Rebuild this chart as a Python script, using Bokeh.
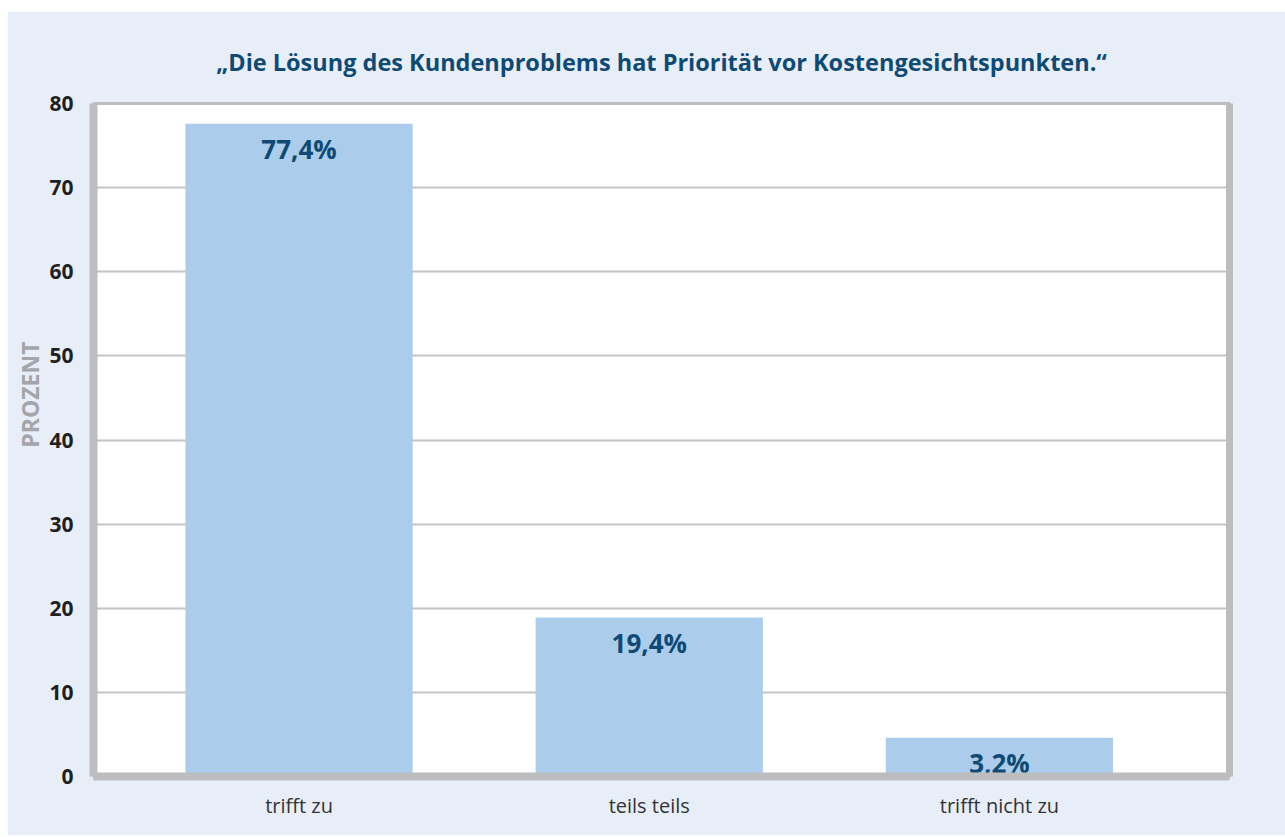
import math
from bokeh.plotting import figure
from bokeh.models import Range1d, FixedTicker, LinearAxis, Title, ColumnDataSource, Spacer
from bokeh.layouts import column, row
from bokeh.core.properties import value
from bokeh.embed import file_html
from bokeh.resources import INLINE

# ---- data ----
categories = ["trifft zu", "teils teils", "trifft nicht zu"]
bar_heights = [77.6, 18.9, 4.6]          # heights as drawn in the picture
bar_labels = ["77,4%", "19,4%", "3,2%"]  # printed labels
y_ticks = [0, 10, 20, 30, 40, 50, 60, 70, 80]
title_text = "\u201eDie L\u00f6sung des Kundenproblems hat Priorit\u00e4t vor Kostengesichtspunkten.\u201c"
y_label = "PROZENT"

BG = "#e8eef8"
BAR = "#abcdeb"
BORDER = "#bcbdbf"
GRID = "#c4c4c4"
DARKBLUE = "#0e4a74"
FONT = "Open Sans"

xs = list(range(len(categories)))
src = ColumnDataSource(dict(x=xs, top=bar_heights, label=bar_labels))

p = figure(width=1278, height=824, output_backend="svg", toolbar_location=None,
           x_range=Range1d(-0.587, 2.657), y_range=Range1d(0, 80),
           min_border_left=86, min_border_right=56, min_border_top=92, min_border_bottom=59,
           background_fill_color="white", border_fill_color=BG)

p.title.text = title_text
p.title.align = "center"
p.title.text_font = FONT
p.title.text_font_size = "23.5px"
p.title.text_font_style = "bold"
p.title.text_color = DARKBLUE
p.title.standoff = 51

p.outline_line_color = BORDER
p.outline_line_width = 3

p.vbar(x="x", top="top", bottom=0, width=0.649, source=src, fill_color=BAR, line_color=None)
p.text(x="x", y="top", text="label", source=src, text_align="center", text_baseline="middle",
       y_offset=25, text_font=value(FONT), text_font_size="26px", text_font_style="bold",
       text_color=DARKBLUE)

# axes
yax = p.yaxis[0]
yax.ticker = FixedTicker(ticks=y_ticks)
yax.axis_line_color = BORDER
yax.axis_line_width = 8
yax.major_tick_line_color = None
yax.minor_tick_line_color = None
yax.major_label_text_font = FONT
yax.major_label_text_font_size = "21px"
yax.major_label_text_font_style = "bold"
yax.major_label_text_color = "#231f20"
yax.major_label_standoff = 14

xax = p.xaxis[0]
xax.ticker = FixedTicker(ticks=xs)
xax.major_label_overrides = {i: c for i, c in enumerate(categories)}
xax.axis_line_color = BORDER
xax.axis_line_width = 8
xax.major_tick_line_color = None
xax.minor_tick_line_color = None
xax.major_label_text_font = FONT
xax.major_label_text_font_size = "20px"
xax.major_label_text_color = "#333333"
xax.major_label_standoff = 9

rax = LinearAxis(axis_line_color=BORDER, axis_line_width=7, major_tick_line_color=None,
                 minor_tick_line_color=None, major_label_text_alpha=0,
                 major_label_text_font_size="1px", ticker=FixedTicker(ticks=[]))
p.add_layout(rax, "right")

p.xgrid.grid_line_color = None
p.ygrid.ticker = FixedTicker(ticks=y_ticks)
p.ygrid.grid_line_color = GRID
p.ygrid.grid_line_width = 2

ytitle = Title(text=y_label, align="right", offset=238, standoff=2, text_font=FONT,
               text_font_size="23px", text_font_style="bold", text_color="#a3a5a8")
p.add_layout(ytitle, "left")

layout = column(Spacer(width=1285, height=11),
                row(Spacer(width=7, height=824), p))

open("out.html", "w").write(file_html(layout, INLINE))
